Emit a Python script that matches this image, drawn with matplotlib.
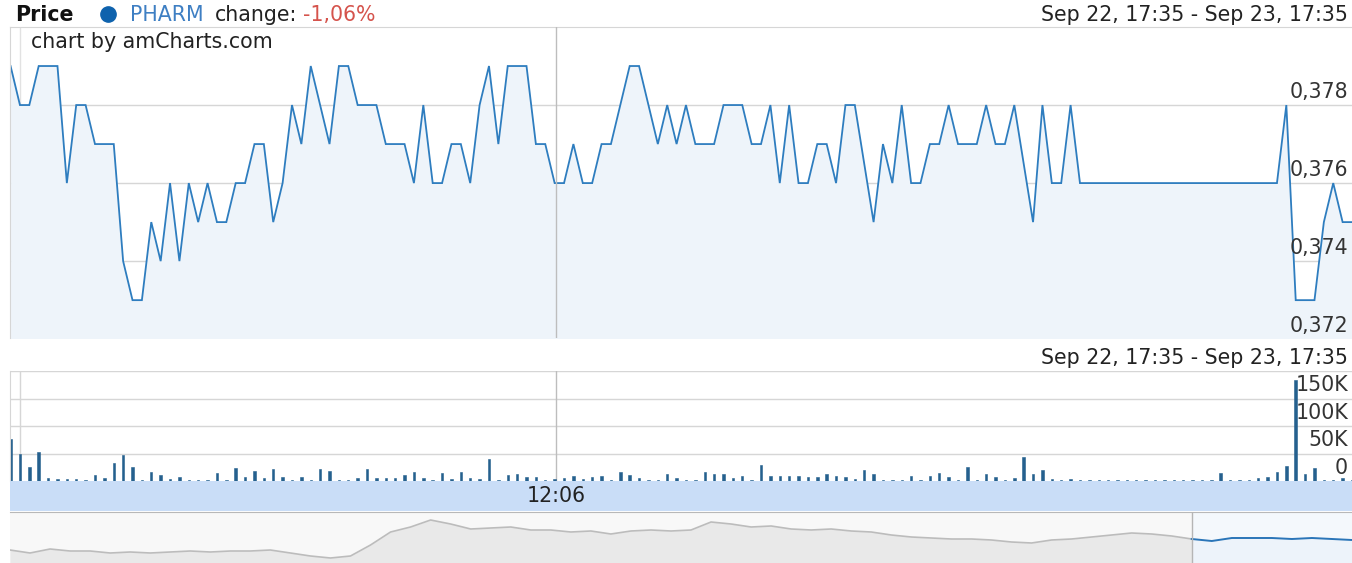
import numpy as np
import matplotlib.pyplot as plt
from matplotlib.lines import Line2D
from matplotlib.transforms import blended_transform_factory

# =====================================================================
# DATA
# =====================================================================

# PHARM price, one value per bar of the intraday range
price = [
    0.379, 0.378, 0.378, 0.379, 0.379, 0.379, 0.376, 0.378, 0.378, 0.377,
    0.377, 0.377, 0.374, 0.373, 0.373, 0.375, 0.374, 0.376, 0.374, 0.376,
    0.375, 0.376, 0.375, 0.375, 0.376, 0.376, 0.377, 0.377, 0.375, 0.376,
    0.378, 0.377, 0.379, 0.378, 0.377, 0.379, 0.379, 0.378, 0.378, 0.378,
    0.377, 0.377, 0.377, 0.376, 0.378, 0.376, 0.376, 0.377, 0.377, 0.376,
    0.378, 0.379, 0.377, 0.379, 0.379, 0.379, 0.377, 0.377, 0.376, 0.376,
    0.377, 0.376, 0.376, 0.377, 0.377, 0.378, 0.379, 0.379, 0.378, 0.377,
    0.378, 0.377, 0.378, 0.377, 0.377, 0.377, 0.378, 0.378, 0.378, 0.377,
    0.377, 0.378, 0.376, 0.378, 0.376, 0.376, 0.377, 0.377, 0.376, 0.378,
    0.378, 0.3765, 0.375, 0.377, 0.376, 0.378, 0.376, 0.376, 0.377, 0.377,
    0.378, 0.377, 0.377, 0.377, 0.378, 0.377, 0.377, 0.378, 0.3765, 0.375,
    0.378, 0.376, 0.376, 0.378, 0.376, 0.376, 0.376, 0.376, 0.376, 0.376,
    0.376, 0.376, 0.376, 0.376, 0.376, 0.376, 0.376, 0.376, 0.376, 0.376,
    0.376, 0.376, 0.376, 0.376, 0.376, 0.376, 0.378, 0.373, 0.373, 0.373,
    0.375, 0.376, 0.375, 0.375,
]

# volume in thousands, same bars as price
volume_k = [
    77, 50, 25, 52, 5, 3, 3, 3, 1, 11,
    5, 32, 47, 25, 2, 17, 11, 3, 8, 2,
    2, 2, 15, 2, 23, 7, 18, 6, 21, 7,
    2, 8, 2, 21, 18, 2, 2, 6, 21, 5,
    5, 5, 11, 16, 6, 1, 15, 3, 17, 5,
    3, 40, 2, 11, 12, 7, 7, 2, 3, 5,
    10, 3, 8, 10, 2, 17, 11, 5, 2, 2,
    12, 5, 2, 2, 17, 12, 12, 5, 10, 2,
    30, 10, 10, 10, 10, 8, 8, 12, 10, 8,
    3, 20, 12, 2, 2, 2, 10, 2, 10, 15,
    8, 2, 25, 2, 12, 8, 2, 5, 44, 12,
    20, 4, 2, 4, 1, 1, 1, 1, 1, 1,
    1, 1, 1, 1, 1, 1, 1, 1, 1, 15,
    2, 2, 2, 5, 8, 17, 27, 184, 12, 24,
    2, 2, 6, 2,
]

# long-range history shown in the scrollbar (navigator), relative level
nav_level = [
    13, 10, 14, 12, 12, 10, 11, 10, 11, 12,
    11, 12, 12, 13, 10, 7, 5, 7, 18, 31,
    36, 43, 39, 34, 35, 36, 33, 33, 31, 32,
    29, 32, 33, 32, 33, 41, 39, 36, 37, 34,
    33, 34, 32, 31, 28, 26, 25, 24, 24, 23,
    21, 20, 23, 24, 26, 28, 30, 29, 27, 24,
    22, 25, 25, 25, 24, 25, 24, 23,
]
nav_selected_from = 59  # scrollbar selection starts here (last day)

price_ticks = [0.372, 0.374, 0.376, 0.378]
price_tick_labels = ["0,372", "0,374", "0,376", "0,378"]
vol_ticks = [0, 50, 100, 150]
vol_tick_labels = ["0", "50K", "100K", "150K"]

period_text = "Sep 22, 17:35 - Sep 23, 17:35"
cursor_label = "12:06"
cursor_pos = 58.15

# =====================================================================
# LAYOUT
# =====================================================================

W, H = 1352, 563
plt.rcParams['font.family'] = ['DejaVu Sans']

fig = plt.figure(figsize=(W / 100, H / 100), dpi=100)


def rect(x0, y0, x1, y1):
    """Pixel box (top-left origin) -> figure fraction rect."""
    return [x0 / W, 1 - y1 / H, (x1 - x0) / W, (y1 - y0) / H]


def fpos(x, y):
    return x / W, 1 - y / H


LINE = '#2e7dbf'
FILL = '#eef4fa'
GRID = '#d6d6d6'
TXT = '#333333'
FS = 14.8

n = len(price)
xs = np.arange(n)
x_lo, x_hi = -0.06, n - 1.0

# ---------------- price panel ----------------
ax_p = fig.add_axes(rect(10, 27, W, 338))
ax_p.fill_between(xs, price, 0.37, color=FILL, lw=0)
ax_p.plot(xs, price, color=LINE, lw=1.3, solid_joinstyle='miter')
ax_p.set_xlim(x_lo, x_hi)
ax_p.set_ylim(0.37203, 0.380)
for t in price_ticks:
    ax_p.axhline(t, color=GRID, lw=1, zorder=0.5)
ax_p.axvline(1.0, color='#e2e2e2', lw=1, zorder=0.5)
ax_p.axvline(cursor_pos, color='#bdbdbd', lw=1, zorder=3)
ax_p.set_xticks([])
ax_p.set_yticks([])
for s in ['right', 'bottom']:
    ax_p.spines[s].set_visible(False)
for s in ['top', 'left']:
    ax_p.spines[s].set_color(GRID)
tr = blended_transform_factory(ax_p.transAxes, ax_p.transData)
for t, lab in zip(price_ticks, price_tick_labels):
    ax_p.text(0.997, t + 0.00008, lab, transform=tr, ha='right', va='bottom',
              fontsize=FS, color=TXT, zorder=5)
ax_p.text(0.016, 0.952, "chart by amCharts.com", transform=ax_p.transAxes,
          ha='left', va='center', fontsize=FS, color='#222222', zorder=6,
          bbox=dict(facecolor='white', edgecolor='none', pad=2))

# ---------------- volume panel ----------------
ax_v = fig.add_axes(rect(10, 371, W, 481))
ax_v.bar(xs, volume_k, width=0.26, color='#25608e', edgecolor='#25608e', lw=0.4)
ax_v.set_xlim(x_lo, x_hi)
ax_v.set_ylim(0, 200)
for t in vol_ticks[1:] + [200]:
    ax_v.axhline(t, color=GRID, lw=1, zorder=0.5)
ax_v.axvline(1.0, color=GRID, lw=1, zorder=0.5)
ax_v.axvline(cursor_pos, color='#bdbdbd', lw=1, zorder=0.6)
ax_v.set_xticks([])
ax_v.set_yticks([])
for s in ['right', 'bottom', 'top']:
    ax_v.spines[s].set_visible(False)
ax_v.spines['left'].set_color(GRID)
tr = blended_transform_factory(ax_v.transAxes, ax_v.transData)
for t, lab in zip(vol_ticks, vol_tick_labels):
    ax_v.text(0.997, t + 6, lab, transform=tr, ha='right', va='bottom',
              fontsize=FS, color=TXT, zorder=5)

# ---------------- category axis bar ----------------
ax_c = fig.add_axes(rect(10, 481, W, 511))
ax_c.set_facecolor('#c9ddf7')
ax_c.set_xlim(x_lo, x_hi)
ax_c.set_ylim(0, 1)
ax_c.set_xticks([])
ax_c.set_yticks([])
for s in ax_c.spines.values():
    s.set_visible(False)
ax_c.text(cursor_pos, 0.5, cursor_label, ha='center', va='center',
          fontsize=FS, color='#222222')

# ---------------- scrollbar / navigator ----------------
ax_n = fig.add_axes(rect(10, 512, W, H))
nx = np.arange(len(nav_level))
ax_n.set_facecolor('#f8f8f8')
ax_n.fill_between(nx, nav_level, 0, color='#e9e9e9', lw=0)
ax_n.plot(nx, nav_level, color='#bcbcbc', lw=1.2)
sel = slice(nav_selected_from, None)
ax_n.axvspan(nx[nav_selected_from], nx[-1] + 1, color='#f4f8fc', zorder=2, lw=0)
ax_n.fill_between(nx[sel], nav_level[sel], 0, color='#edf3fa', lw=0, zorder=2.1)
ax_n.plot(nx[sel], nav_level[sel], color='#2a75b8', lw=1.4, zorder=3)
ax_n.axvline(nx[nav_selected_from], color='#b5b5b5', lw=1, zorder=4)
ax_n.set_xlim(0, len(nav_level) - 1)
ax_n.set_ylim(0, 51)
ax_n.set_xticks([])
ax_n.set_yticks([])
for s in ax_n.spines.values():
    s.set_visible(False)
ax_n.spines['top'].set_visible(True)
ax_n.spines['top'].set_color('#b8b8b8')

# ---------------- header texts ----------------
fig.text(*fpos(15, 15), "Price", fontsize=FS, fontweight='bold',
         color='#111111', ha='left', va='center')
fig.add_artist(Line2D([108 / W], [1 - 14 / H], marker='o', markersize=11,
                      color='#0e62ad', transform=fig.transFigure))
fig.text(*fpos(130, 15), "PHARM", fontsize=FS, color='#3e7fc3',
         ha='left', va='center')
fig.text(*fpos(215, 15), "change:", fontsize=FS, color='#222222',
         ha='left', va='center')
fig.text(*fpos(303, 15), "-1,06%", fontsize=FS, color='#d5534c',
         ha='left', va='center')
fig.text(*fpos(1348, 15), period_text, fontsize=FS, color='#222222',
         ha='right', va='center')
fig.text(*fpos(1348, 358), period_text, fontsize=FS, color='#222222',
         ha='right', va='center')

fig.savefig('out.png', dpi=100)
